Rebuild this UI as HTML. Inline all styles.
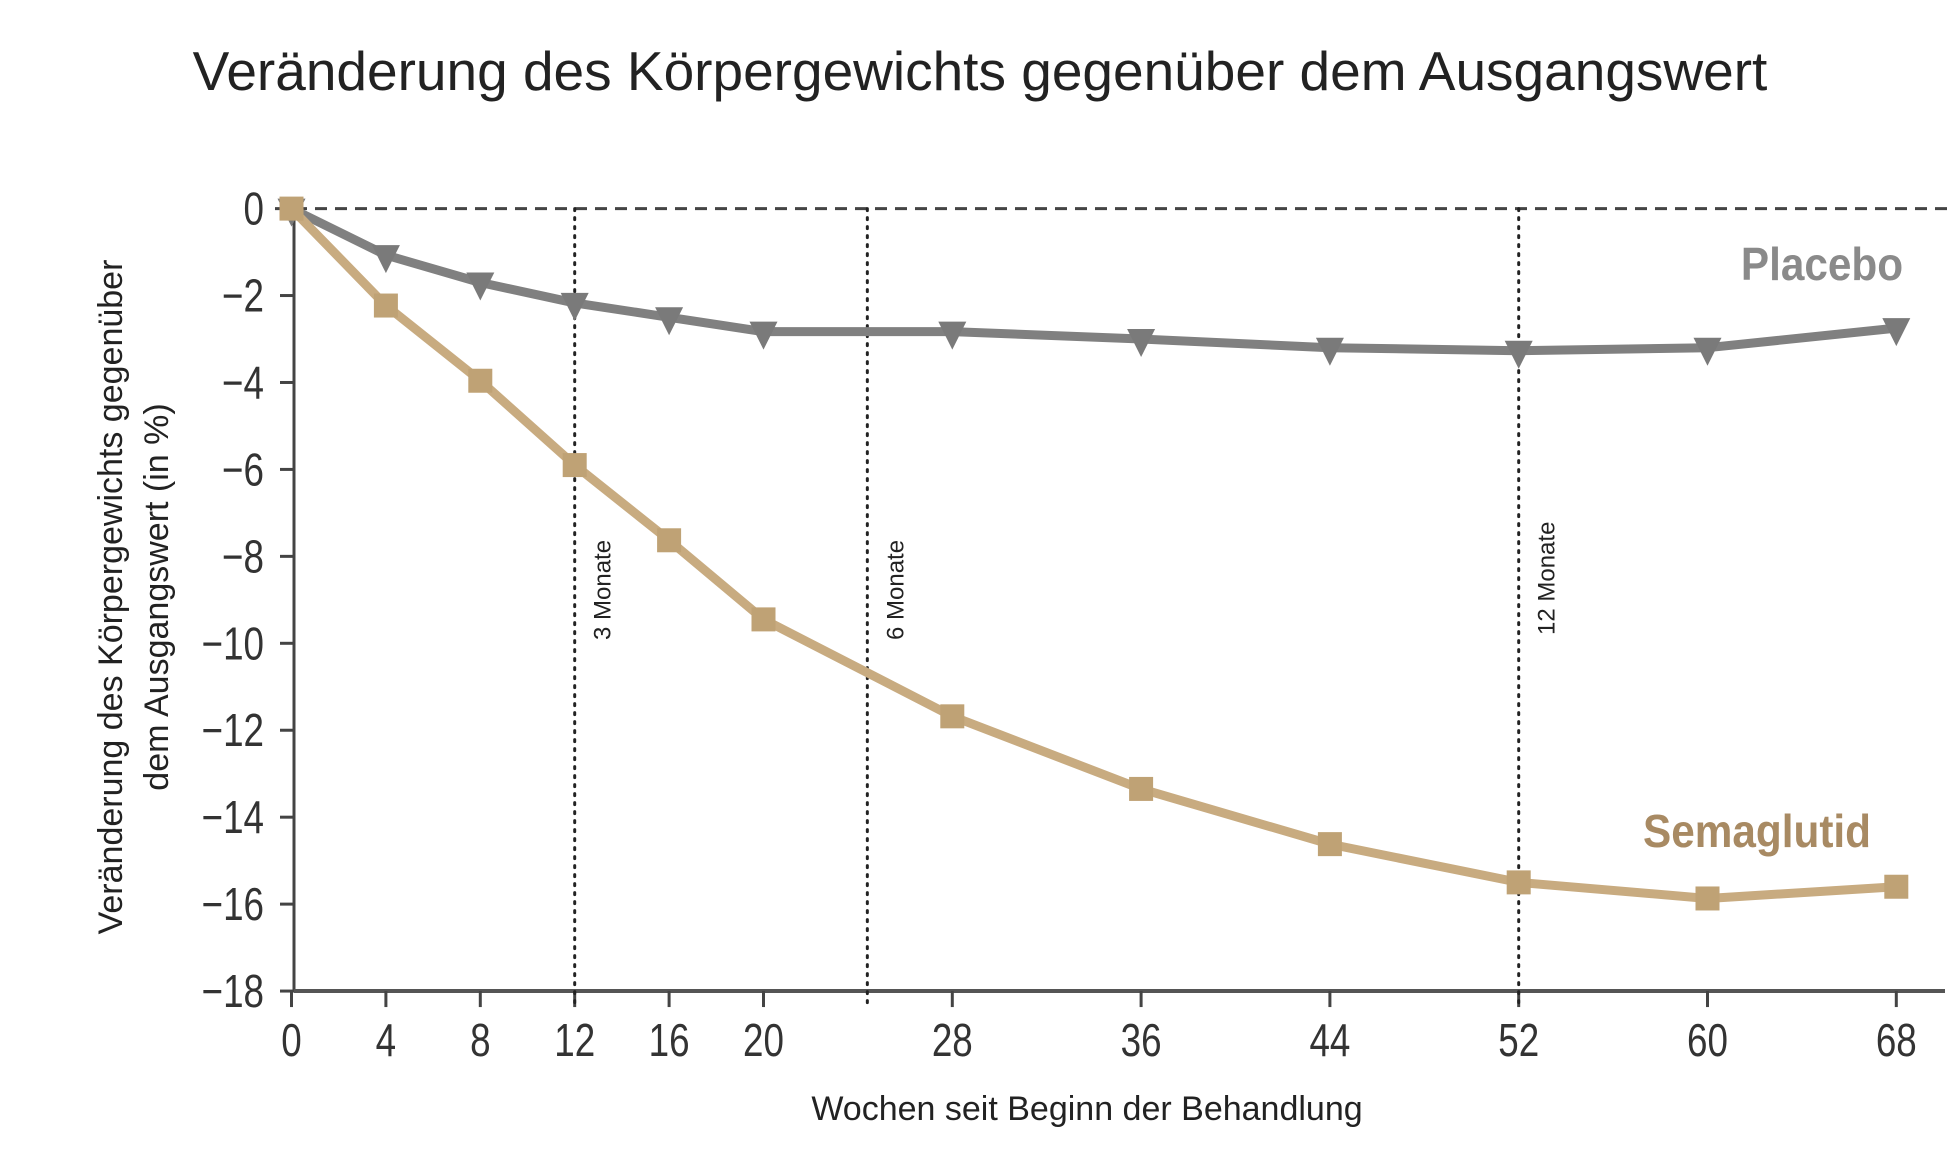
<!DOCTYPE html>
<html><head><meta charset="utf-8"><style>
html,body{margin:0;padding:0;background:#fff;}
svg{display:block;font-family:"Liberation Sans",sans-serif;}
</style></head><body>
<svg id="chart" width="1960" height="1160" viewBox="0 0 1960 1160" xmlns="http://www.w3.org/2000/svg">
<text x="980" y="90" text-anchor="middle" font-size="55" fill="#222">Veränderung des Körpergewichts gegenüber dem Ausgangswert</text>
<g id="axes"></g>
<g id="marks"></g>
<text transform="translate(122,597) rotate(-90)" text-anchor="middle" font-size="34" fill="#222">Veränderung des Körpergewichts gegenüber</text>
<text transform="translate(168,597) rotate(-90)" text-anchor="middle" font-size="34" fill="#222">dem Ausgangswert (in %)</text>
<text x="1087" y="1120" text-anchor="middle" font-size="34" fill="#222">Wochen seit Beginn der Behandlung</text>
<text x="1822" y="280" text-anchor="middle" font-size="46" font-weight="bold" fill="#8a8a8a" transform="translate(1822,0) scale(0.92,1) translate(-1822,0)">Placebo</text>
<text x="1757" y="847" text-anchor="middle" font-size="46" font-weight="bold" fill="#a88a63" transform="translate(1757,0) scale(0.92,1) translate(-1757,0)">Semaglutid</text>
</svg>
<script>
const weeks = [0,4,8,12,16,20,28,36,44,52,60,68];
const placebo = [0,-1.07,-1.7,-2.17,-2.5,-2.83,-2.83,-3.0,-3.2,-3.27,-3.2,-2.75];
const semaglutid = [0,-2.23,-3.96,-5.9,-7.63,-9.45,-11.68,-13.35,-14.62,-15.5,-15.87,-15.6];
const yTicks = [0,-2,-4,-6,-8,-10,-12,-14,-16,-18];
const xTicks = [0,4,8,12,16,20,28,36,44,52,60,68];
const refWeeks = [12,24.4,52];
const refLabels = ["3 Monate","6 Monate","12 Monate"];

const NS="http://www.w3.org/2000/svg";
const X0=291.5, XW=23.6, Y0=208.6, YU=43.47;
const xs=w=>X0+w*XW, ys=v=>Y0-v*YU;
const axes=document.getElementById('axes'), marks=document.getElementById('marks');
function mk(tag,attrs,parent){const e=document.createElementNS(NS,tag);for(const k in attrs)e.setAttribute(k,attrs[k]);parent.appendChild(e);return e;}

let e;
e=mk('line',{x1:294,y1:ys(0)-4,x2:294,y2:ys(-18),stroke:'#444','stroke-width':3},axes);


e=mk('line',{x1:294,y1:ys(-18),x2:1945,y2:ys(-18),stroke:'#555','stroke-width':4},axes);


e=mk('line',{x1:275,y1:ys(0),x2:1950,y2:ys(0),stroke:'#444','stroke-width':3,'stroke-dasharray':'12 8'},axes);



yTicks.forEach(v=>{
  const y=ys(v);
  e=mk('line',{x1:280,y1:y,x2:294,y2:y,stroke:'#444','stroke-width':3},axes);
  
  
  const t=mk('text',{x:0,y:0,'text-anchor':'end','font-size':46,fill:'#333',transform:`translate(264,${y+16}) scale(0.8,1)`},axes);
  t.textContent=(v<0?'\u2212':'')+Math.abs(v);
  
  
});
xTicks.forEach(w=>{
  const x=xs(w);
  e=mk('line',{x1:x,y1:ys(-18),x2:x,y2:ys(-18)+16,stroke:'#444','stroke-width':3},axes);
  
  
  const t=mk('text',{x:0,y:0,'text-anchor':'middle','font-size':46,fill:'#333',transform:`translate(${x},${ys(-18)+65}) scale(0.8,1)`},axes);
  t.textContent=w;
  
  
});
refWeeks.forEach((w,i)=>{
  const x=xs(w);
  e=mk('line',{x1:x,y1:ys(0),x2:x,y2:ys(-18)+16,stroke:'#222','stroke-width':3,'stroke-dasharray':'2 7','stroke-linecap':'round'},axes);
  
  
  const t=mk('text',{x:0,y:0,'font-size':24,fill:'#222',transform:`translate(${x+36},${i==2?635:640}) rotate(-90)`},axes);
  t.textContent=refLabels[i];
  
  
});

function series(vals,color,width,name){
  const pts=weeks.map((w,i)=>xs(w)+','+ys(vals[i])).join(' ');
  const p=mk('polyline',{points:pts,fill:'none',stroke:color,'stroke-width':width,'stroke-linejoin':'round'},marks);
  
  
}
series(placebo,'#808080',9,'placebo');
series(semaglutid,'#c8ab80',9,'semaglutid');
weeks.forEach((w,i)=>{
  const x=xs(w),y=ys(placebo[i])+3;
  const m=mk('polygon',{points:`${x-14},${y-13} ${x+14},${y-13} ${x},${y+15}`,fill:'#7a7a7a'},marks);
  
  
});
weeks.forEach((w,i)=>{
  const x=xs(w),y=ys(semaglutid[i]);
  const m=mk('rect',{x:x-12,y:y-12,width:24,height:24,fill:'#bfa275'},marks);
  
  
});
</script>
</body></html>
